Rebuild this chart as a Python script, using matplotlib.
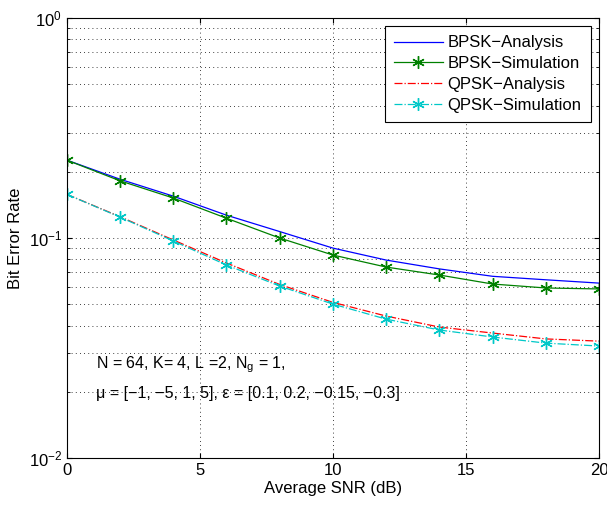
import numpy as np
import matplotlib.pyplot as plt

plt.rcParams['font.family'] = ['Liberation Sans', 'DejaVu Sans']
plt.rcParams['mathtext.fontset'] = 'custom'
plt.rcParams['mathtext.rm'] = 'Liberation Sans'
plt.rcParams['mathtext.it'] = 'Liberation Sans'

# data
snr = [0, 2, 4, 6, 8, 10, 12, 14, 16, 18, 20]
bpsk_ana = [0.226, 0.185, 0.155, 0.127, 0.107, 0.090, 0.0794, 0.0724, 0.067, 0.0646, 0.0624]
bpsk_sim = [0.226, 0.182, 0.152, 0.123, 0.100, 0.0837, 0.0738, 0.0679, 0.0618, 0.0593, 0.0587]
qpsk_ana = [0.158, 0.125, 0.098, 0.077, 0.0615, 0.051, 0.0442, 0.0394, 0.037, 0.0348, 0.034]
qpsk_sim = [0.158, 0.1245, 0.097, 0.0754, 0.0605, 0.0501, 0.0428, 0.0382, 0.0355, 0.0333, 0.0323]

fig = plt.figure(figsize=(6.07, 5.13), dpi=100)
ax = fig.add_axes([0.110, 0.107, 0.877, 0.858])

star = (6, 2, 0)  # MATLAB style asterisk
ax.semilogy(snr, bpsk_ana, '-', color='blue', lw=0.9, label='BPSK\u2212Analysis')
ax.semilogy(snr, bpsk_sim, '-', marker=star, color='#008000', lw=0.9, ms=9, mew=1.0,
            label='BPSK\u2212Simulation')
ax.semilogy(snr, qpsk_ana, '-.', color='red', lw=0.9, label='QPSK\u2212Analysis')
ax.semilogy(snr, qpsk_sim, '-.', marker=star, color='#00c8c8', lw=0.9, ms=9, mew=1.0,
            label='QPSK\u2212Simulation')

ax.set_xlim(0, 20)
ax.set_ylim(1e-2, 1e0)
ax.set_xticks([0, 5, 10, 15, 20])
ax.set_axisbelow(True)
ax.grid(True, which='major', ls=(0, (1, 4)), color='black', lw=0.6)
ax.grid(True, which='minor', axis='y', ls=(0, (1, 4)), color='black', lw=0.6)
ax.tick_params(which='both', direction='in', top=True, right=True, labelsize=12)
ax.set_xlabel('Average SNR (dB)', fontsize=12, labelpad=2)
ax.set_ylabel('Bit Error Rate', fontsize=12)

ax.text(1.1, 0.0265, 'N = 64, K= 4, L =2, N$_{\\mathrm{g}}$ = 1,', fontsize=11.5, va='center')
ax.text(1.1, 0.0197, '\u03bc = [\u22121, \u22125, 1, 5], \u03b5 = [0.1, 0.2, \u22120.15, \u22120.3]',
        fontsize=11.5, va='center')

leg = ax.legend(loc='upper right', fontsize=12, fancybox=False, framealpha=1,
                edgecolor='black', borderaxespad=0.5, handlelength=2.9,
                handletextpad=0.3, borderpad=0.55, labelspacing=0.35)
leg.get_frame().set_linewidth(0.8)

fig.savefig('out.png')
